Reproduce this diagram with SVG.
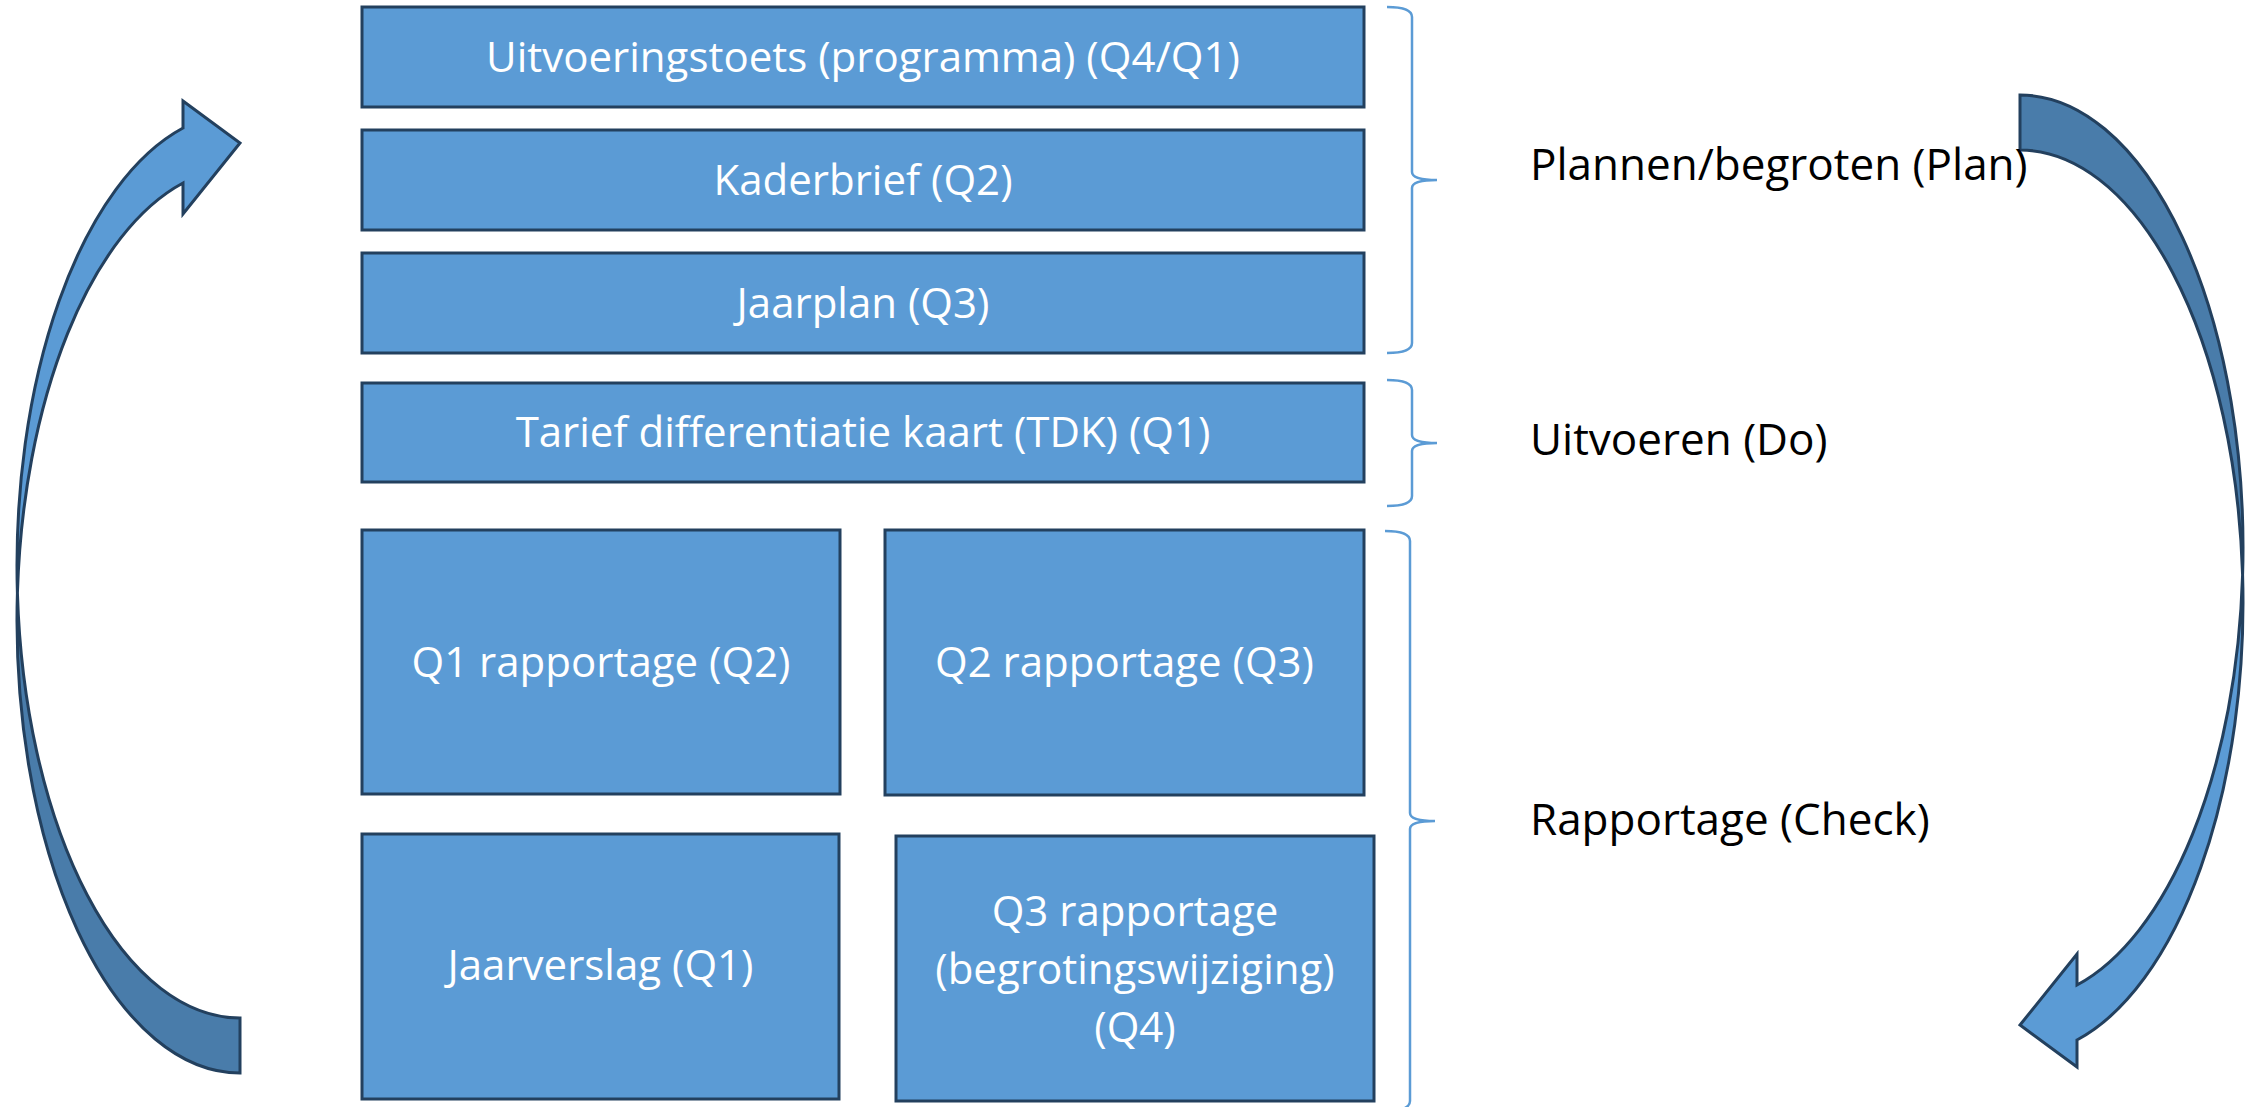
<svg xmlns="http://www.w3.org/2000/svg" width="2247" height="1107" viewBox="0 0 2247 1107">
<style>
.box{fill:#5B9BD5;stroke:#23405E;stroke-width:3}
.bt{font-family:'Open Sans','Noto Sans',sans-serif;font-size:42px;fill:#FFFFFF;text-anchor:middle}
.lbl{font-family:'Open Sans','Noto Sans',sans-serif;font-size:44px;fill:#000000}
.brace{fill:none;stroke:#5B9BD5;stroke-width:2.5}
.light{fill:#5B9BD5;stroke:#23405E;stroke-width:3;stroke-linejoin:miter}
.dark{fill:#497CAA;stroke:#23405E;stroke-width:3}
</style>
<defs>
<g id="curved-arrow">
<path class="dark" d="M240,1018 A223,452.5 0 0 1 17.41,593 A223,452.5 0 0 0 240,1073 Z"/>
<path class="light" d="M183,128 A223,452.5 0 0 0 17.41,593 A223,452.5 0 0 1 183,183 L183,214 L240,143 L183,101 Z"/>
</g>
</defs>
<rect width="2247" height="1107" fill="#FFFFFF"/>
<g id="connectors">
<use href="#curved-arrow"/>
<use href="#curved-arrow" transform="translate(2260,1168) scale(-1,-1)"/>
<path class="brace" d="M1387,7 Q1412,7 1412,17 L1412,172 Q1412,180 1437,180 Q1412,180 1412,188 L1412,343 Q1412,353 1387,353"/>
<path class="brace" d="M1387,380 Q1412,380 1412,390 L1412,435 Q1412,443 1437,443 Q1412,443 1412,451 L1412,496 Q1412,506 1387,506"/>
<path class="brace" d="M1385,531 Q1410,531 1410,541 L1410,813 Q1410,821 1435,821 Q1410,821 1410,829 L1410,1101 Q1410,1111 1385,1111"/>
</g>
<g id="node-uitvoeringstoets"><rect class="box" x="362" y="7" width="1002" height="100"/><text class="bt" x="863" y="72">Uitvoeringstoets (programma) (Q4/Q1)</text></g>
<g id="node-kaderbrief"><rect class="box" x="362" y="130" width="1002" height="100"/><text class="bt" x="863" y="195">Kaderbrief (Q2)</text></g>
<g id="node-jaarplan"><rect class="box" x="362" y="253" width="1002" height="100"/><text class="bt" x="863" y="318">Jaarplan (Q3)</text></g>
<g id="node-tdk"><rect class="box" x="362" y="383" width="1002" height="99"/><text class="bt" x="863" y="447">Tarief differentiatie kaart (TDK) (Q1)</text></g>
<g id="node-q1"><rect class="box" x="362" y="530" width="478" height="264"/><text class="bt" x="601" y="677">Q1 rapportage (Q2)</text></g>
<g id="node-q2"><rect class="box" x="885" y="530" width="479" height="265"/><text class="bt" x="1124.5" y="677">Q2 rapportage (Q3)</text></g>
<g id="node-jaarverslag"><rect class="box" x="362" y="834" width="477" height="265"/><text class="bt" x="600.5" y="980">Jaarverslag (Q1)</text></g>
<g id="node-q3"><rect class="box" x="896" y="836" width="478" height="265"/><text class="bt" x="1135"><tspan x="1135" y="926">Q3 rapportage</tspan><tspan x="1135" y="984">(begrotingswijziging)</tspan><tspan x="1135" y="1042">(Q4)</tspan></text></g>
<g id="label-plan"><text class="lbl" x="1530" y="180">Plannen/begroten (Plan)</text></g>
<g id="label-do"><text class="lbl" x="1530" y="455">Uitvoeren (Do)</text></g>
<g id="label-check"><text class="lbl" x="1530" y="835">Rapportage (Check)</text></g>
</svg>
